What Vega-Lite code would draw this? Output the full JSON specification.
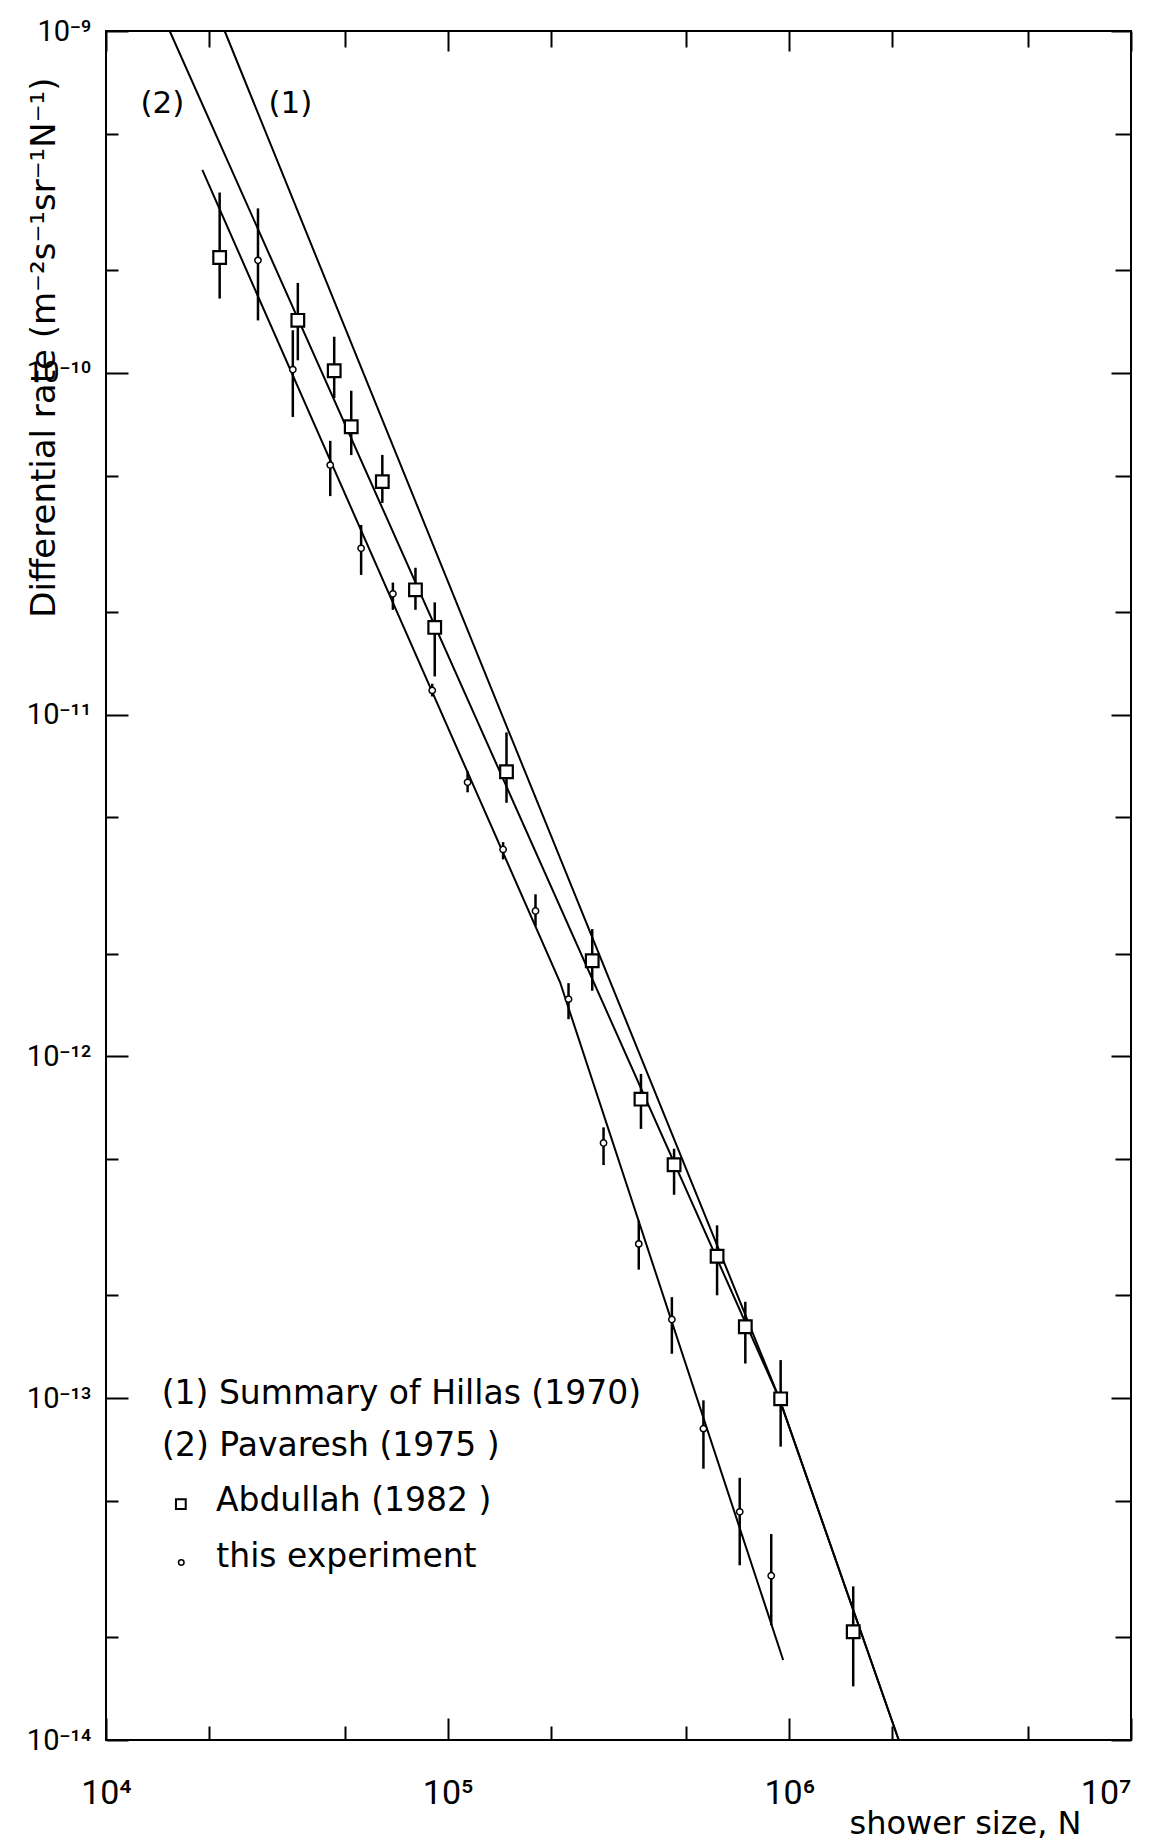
{
  "$schema": "https://vega.github.io/schema/vega-lite/v6.json",
  "width": 1025,
  "height": 1709,
  "autosize": {"type": "none"},
  "padding": {"left": 106, "top": 31, "right": 24, "bottom": 100},
  "background": "white",
  "config": {
    "view": {"stroke": "black", "strokeWidth": 2},
    "axis": {"grid": false, "domain": false, "tickColor": "black", "tickWidth": 2, "labelColor": "black", "titleColor": "black", "labelFont": "Liberation Sans Narrow, Roboto, sans-serif", "titleFont": "DejaVu Sans", "titleFontWeight": "normal"}
  },
  "datasets": {
    "lines": [
      {"id": "1", "N": 22250, "R": 1e-9},
      {"id": "1", "N": 933700, "R": 1e-13},
      {"id": "1", "N": 2090000, "R": 1e-14},
      {"id": "2", "N": 15360, "R": 1e-9},
      {"id": "2", "N": 933700, "R": 1e-13},
      {"id": "2", "N": 2090000, "R": 1e-14},
      {"id": "exp", "N": 19140, "R": 3.923e-10},
      {"id": "exp", "N": 213300, "R": 1.648e-12},
      {"id": "exp", "N": 959100, "R": 1.714e-14}
    ],
    "pts": [
      {"k": "sq", "N": 21510, "R": 2.174e-10, "lo": 1.649e-10, "hi": 3.368e-10},
      {"k": "sq", "N": 36430, "R": 1.424e-10, "lo": 1.088e-10, "hi": 1.832e-10},
      {"k": "sq", "N": 46550, "R": 1.014e-10, "lo": 8.434e-11, "hi": 1.275e-10},
      {"k": "sq", "N": 52210, "R": 6.953e-11, "lo": 5.745e-11, "hi": 8.862e-11},
      {"k": "sq", "N": 64380, "R": 4.804e-11, "lo": 4.163e-11, "hi": 5.750e-11},
      {"k": "sq", "N": 80490, "R": 2.318e-11, "lo": 2.026e-11, "hi": 2.689e-11},
      {"k": "sq", "N": 91650, "R": 1.799e-11, "lo": 1.293e-11, "hi": 2.130e-11},
      {"k": "sq", "N": 148660, "R": 6.806e-12, "lo": 5.522e-12, "hi": 8.868e-12},
      {"k": "sq", "N": 264900, "R": 1.905e-12, "lo": 1.556e-12, "hi": 2.358e-12},
      {"k": "sq", "N": 367900, "R": 7.496e-13, "lo": 6.136e-13, "hi": 8.888e-13},
      {"k": "sq", "N": 459900, "R": 4.819e-13, "lo": 3.937e-13, "hi": 5.368e-13},
      {"k": "sq", "N": 614500, "R": 2.602e-13, "lo": 2.000e-13, "hi": 3.204e-13},
      {"k": "sq", "N": 743300, "R": 1.618e-13, "lo": 1.263e-13, "hi": 1.915e-13},
      {"k": "sq", "N": 943200, "R": 9.957e-14, "lo": 7.216e-14, "hi": 1.293e-13},
      {"k": "sq", "N": 1538000, "R": 2.073e-14, "lo": 1.435e-14, "hi": 2.815e-14},
      {"k": "ci", "N": 27850, "R": 2.133e-10, "lo": 1.423e-10, "hi": 3.027e-10},
      {"k": "ci", "N": 35220, "R": 1.022e-10, "lo": 7.427e-11, "hi": 1.332e-10},
      {"k": "ci", "N": 45320, "R": 5.370e-11, "lo": 4.358e-11, "hi": 6.323e-11},
      {"k": "ci", "N": 55810, "R": 3.066e-11, "lo": 2.562e-11, "hi": 3.587e-11},
      {"k": "ci", "N": 69130, "R": 2.256e-11, "lo": 2.025e-11, "hi": 2.434e-11},
      {"k": "ci", "N": 90110, "R": 1.177e-11, "lo": 1.130e-11, "hi": 1.231e-11},
      {"k": "ci", "N": 114370, "R": 6.338e-12, "lo": 5.925e-12, "hi": 6.826e-12},
      {"k": "ci", "N": 145290, "R": 4.032e-12, "lo": 3.770e-12, "hi": 4.235e-12},
      {"k": "ci", "N": 180750, "R": 2.663e-12, "lo": 2.407e-12, "hi": 2.980e-12},
      {"k": "ci", "N": 225800, "R": 1.4705e-12, "lo": 1.285e-12, "hi": 1.638e-12},
      {"k": "ci", "N": 285900, "R": 5.579e-13, "lo": 4.810e-13, "hi": 6.200e-13},
      {"k": "ci", "N": 362500, "R": 2.828e-13, "lo": 2.378e-13, "hi": 3.307e-13},
      {"k": "ci", "N": 453100, "R": 1.699e-13, "lo": 1.349e-13, "hi": 1.976e-13},
      {"k": "ci", "N": 560500, "R": 8.145e-14, "lo": 6.221e-14, "hi": 9.856e-14},
      {"k": "ci", "N": 715800, "R": 4.652e-14, "lo": 3.245e-14, "hi": 5.849e-14},
      {"k": "ci", "N": 885100, "R": 3.025e-14, "lo": 2.168e-14, "hi": 4.004e-14}
    ],
    "labels": [
      {"N": 12620, "R": 6.13e-10, "t": "(2)", "fs": "a"},
      {"N": 29900, "R": 6.13e-10, "t": "(1)", "fs": "a"},
      {"N": 14550, "R": 1.028e-13, "t": "(1) Summary of Hillas (1970)", "fs": "b"},
      {"N": 14590, "R": 7.256e-14, "t": "(2) Pavaresh (1975 )", "fs": "b"},
      {"N": 20970, "R": 5.016e-14, "t": "Abdullah (1982 )", "fs": "b"},
      {"N": 21030, "R": 3.423e-14, "t": "this experiment", "fs": "b"}
    ],
    "legsym": [
      {"k": "sq", "N": 16560, "R": 4.901e-14},
      {"k": "ci", "N": 16610, "R": 3.307e-14}
    ]
  },
  "layer": [
    {
      "data": {"name": "lines"},
      "mark": {"type": "line", "color": "black", "strokeWidth": 2},
      "encoding": {
        "x": {"field": "N", "type": "quantitative",
          "scale": {"type": "log", "domain": [10000, 10000000], "nice": false},
          "axis": {"orient": "bottom",
            "values": [10000, 20000, 50000, 100000, 200000, 500000, 1000000, 2000000, 5000000, 10000000],
            "labelExpr": "abs(log(datum.value)/LN10 - round(log(datum.value)/LN10)) > 0.01 ? '' : (round(log(datum.value)/LN10) == 4 ? '10⁴' : round(log(datum.value)/LN10) == 5 ? '10⁵' : round(log(datum.value)/LN10) == 6 ? '10⁶' : '10⁷')",
            "tickSize": {"condition": {"test": "abs(log(datum.value)/LN10 - round(log(datum.value)/LN10)) < 0.01", "value": -22}, "value": -14},
            "labelAlign": {"condition": {"test": "datum.value > 5000000", "value": "right"}, "value": "center"},
            "labelFontSize": 34, "labelPadding": 58, "labelFlush": false, "labelOverlap": false, "labelBound": false,
            "title": "shower size, N", "titleFontSize": 32, "titleX": 975, "titleY": 93, "titleAlign": "right", "titleBaseline": "alphabetic"}},
        "y": {"field": "R", "type": "quantitative",
          "scale": {"type": "log", "domain": [1e-14, 1e-9], "nice": false},
          "axis": {"orient": "left",
            "values": [1e-9, 5e-10, 2e-10, 1e-10, 5e-11, 2e-11, 1e-11, 5e-12, 2e-12, 1e-12, 5e-13, 2e-13, 1e-13, 5e-14, 2e-14, 1e-14],
            "labelExpr": "abs(log(datum.value)/LN10 - round(log(datum.value)/LN10)) > 0.01 ? '' : (round(log(datum.value)/LN10) == -9 ? '10⁻⁹' : round(log(datum.value)/LN10) == -10 ? '10⁻¹⁰' : round(log(datum.value)/LN10) == -11 ? '10⁻¹¹' : round(log(datum.value)/LN10) == -12 ? '10⁻¹²' : round(log(datum.value)/LN10) == -13 ? '10⁻¹³' : '10⁻¹⁴')",
            "tickSize": {"condition": {"test": "abs(log(datum.value)/LN10 - round(log(datum.value)/LN10)) < 0.01", "value": -22}, "value": -12},
            "labelFontSize": 29, "labelPadding": 37, "labelFlush": false, "labelOverlap": false, "labelBound": false,
            "title": "Differential rate (m⁻²s⁻¹sr⁻¹N⁻¹)", "titleFontSize": 34, "titleX": -62, "titleY": 46, "titleAngle": 270, "titleAlign": "right", "titleBaseline": "middle"}},
        "detail": {"field": "id", "type": "nominal"}
      }
    },
    {
      "data": {"name": "pts"},
      "mark": {"type": "rule", "color": "black", "strokeWidth": 2.5},
      "encoding": {
        "x": {"field": "N", "type": "quantitative",
          "scale": {"type": "log", "domain": [10000, 10000000], "nice": false},
          "axis": {"orient": "top", "labels": false, "title": null,
            "values": [10000, 20000, 50000, 100000, 200000, 500000, 1000000, 2000000, 5000000, 10000000],
            "tickSize": {"condition": {"test": "abs(log(datum.value)/LN10 - round(log(datum.value)/LN10)) < 0.01", "value": -20}, "value": -16}}},
        "y": {"field": "lo", "type": "quantitative",
          "scale": {"type": "log", "domain": [1e-14, 1e-9], "nice": false},
          "axis": {"orient": "right", "labels": false, "title": null,
            "values": [1e-9, 5e-10, 2e-10, 1e-10, 5e-11, 2e-11, 1e-11, 5e-12, 2e-12, 1e-12, 5e-13, 2e-13, 1e-13, 5e-14, 2e-14, 1e-14],
            "tickSize": {"condition": {"test": "abs(log(datum.value)/LN10 - round(log(datum.value)/LN10)) < 0.01", "value": -20}, "value": -16}}},
        "y2": {"field": "hi"}
      }
    },
    {
      "data": {"name": "pts"},
      "transform": [{"filter": "datum.k == 'sq'"}],
      "mark": {"type": "point", "shape": "square", "size": 160, "filled": true, "fill": "white", "stroke": "black", "strokeWidth": 2.2, "opacity": 1},
      "encoding": {
        "x": {"field": "N", "type": "quantitative", "scale": {"type": "log", "domain": [10000, 10000000], "nice": false}, "axis": null},
        "y": {"field": "R", "type": "quantitative", "scale": {"type": "log", "domain": [1e-14, 1e-9], "nice": false}, "axis": null}
      }
    },
    {
      "data": {"name": "pts"},
      "transform": [{"filter": "datum.k == 'ci'"}],
      "mark": {"type": "point", "shape": "circle", "size": 40, "filled": true, "fill": "white", "stroke": "black", "strokeWidth": 1.5, "opacity": 1},
      "encoding": {
        "x": {"field": "N", "type": "quantitative", "scale": {"type": "log", "domain": [10000, 10000000], "nice": false}, "axis": null},
        "y": {"field": "R", "type": "quantitative", "scale": {"type": "log", "domain": [1e-14, 1e-9], "nice": false}, "axis": null}
      }
    },
    {
      "data": {"name": "legsym"},
      "transform": [{"filter": "datum.k == 'sq'"}],
      "mark": {"type": "point", "shape": "square", "size": 95, "filled": true, "fill": "white", "stroke": "black", "strokeWidth": 2, "opacity": 1},
      "encoding": {
        "x": {"field": "N", "type": "quantitative", "scale": {"type": "log", "domain": [10000, 10000000], "nice": false}, "axis": null},
        "y": {"field": "R", "type": "quantitative", "scale": {"type": "log", "domain": [1e-14, 1e-9], "nice": false}, "axis": null}
      }
    },
    {
      "data": {"name": "legsym"},
      "transform": [{"filter": "datum.k == 'ci'"}],
      "mark": {"type": "point", "shape": "circle", "size": 30, "filled": true, "fill": "white", "stroke": "black", "strokeWidth": 1.5, "opacity": 1},
      "encoding": {
        "x": {"field": "N", "type": "quantitative", "scale": {"type": "log", "domain": [10000, 10000000], "nice": false}, "axis": null},
        "y": {"field": "R", "type": "quantitative", "scale": {"type": "log", "domain": [1e-14, 1e-9], "nice": false}, "axis": null}
      }
    },
    {
      "data": {"name": "labels"},
      "transform": [{"filter": "datum.fs == 'a'"}],
      "mark": {"type": "text", "align": "left", "baseline": "middle", "font": "DejaVu Sans", "fontSize": 31, "color": "black"},
      "encoding": {
        "x": {"field": "N", "type": "quantitative", "scale": {"type": "log", "domain": [10000, 10000000], "nice": false}, "axis": null},
        "y": {"field": "R", "type": "quantitative", "scale": {"type": "log", "domain": [1e-14, 1e-9], "nice": false}, "axis": null},
        "text": {"field": "t"}
      }
    },
    {
      "data": {"name": "labels"},
      "transform": [{"filter": "datum.fs == 'b'"}],
      "mark": {"type": "text", "align": "left", "baseline": "middle", "font": "DejaVu Sans", "fontSize": 33, "color": "black"},
      "encoding": {
        "x": {"field": "N", "type": "quantitative", "scale": {"type": "log", "domain": [10000, 10000000], "nice": false}, "axis": null},
        "y": {"field": "R", "type": "quantitative", "scale": {"type": "log", "domain": [1e-14, 1e-9], "nice": false}, "axis": null},
        "text": {"field": "t"}
      }
    }
  ],
  "resolve": {"axis": {"x": "independent", "y": "independent"}}
}
